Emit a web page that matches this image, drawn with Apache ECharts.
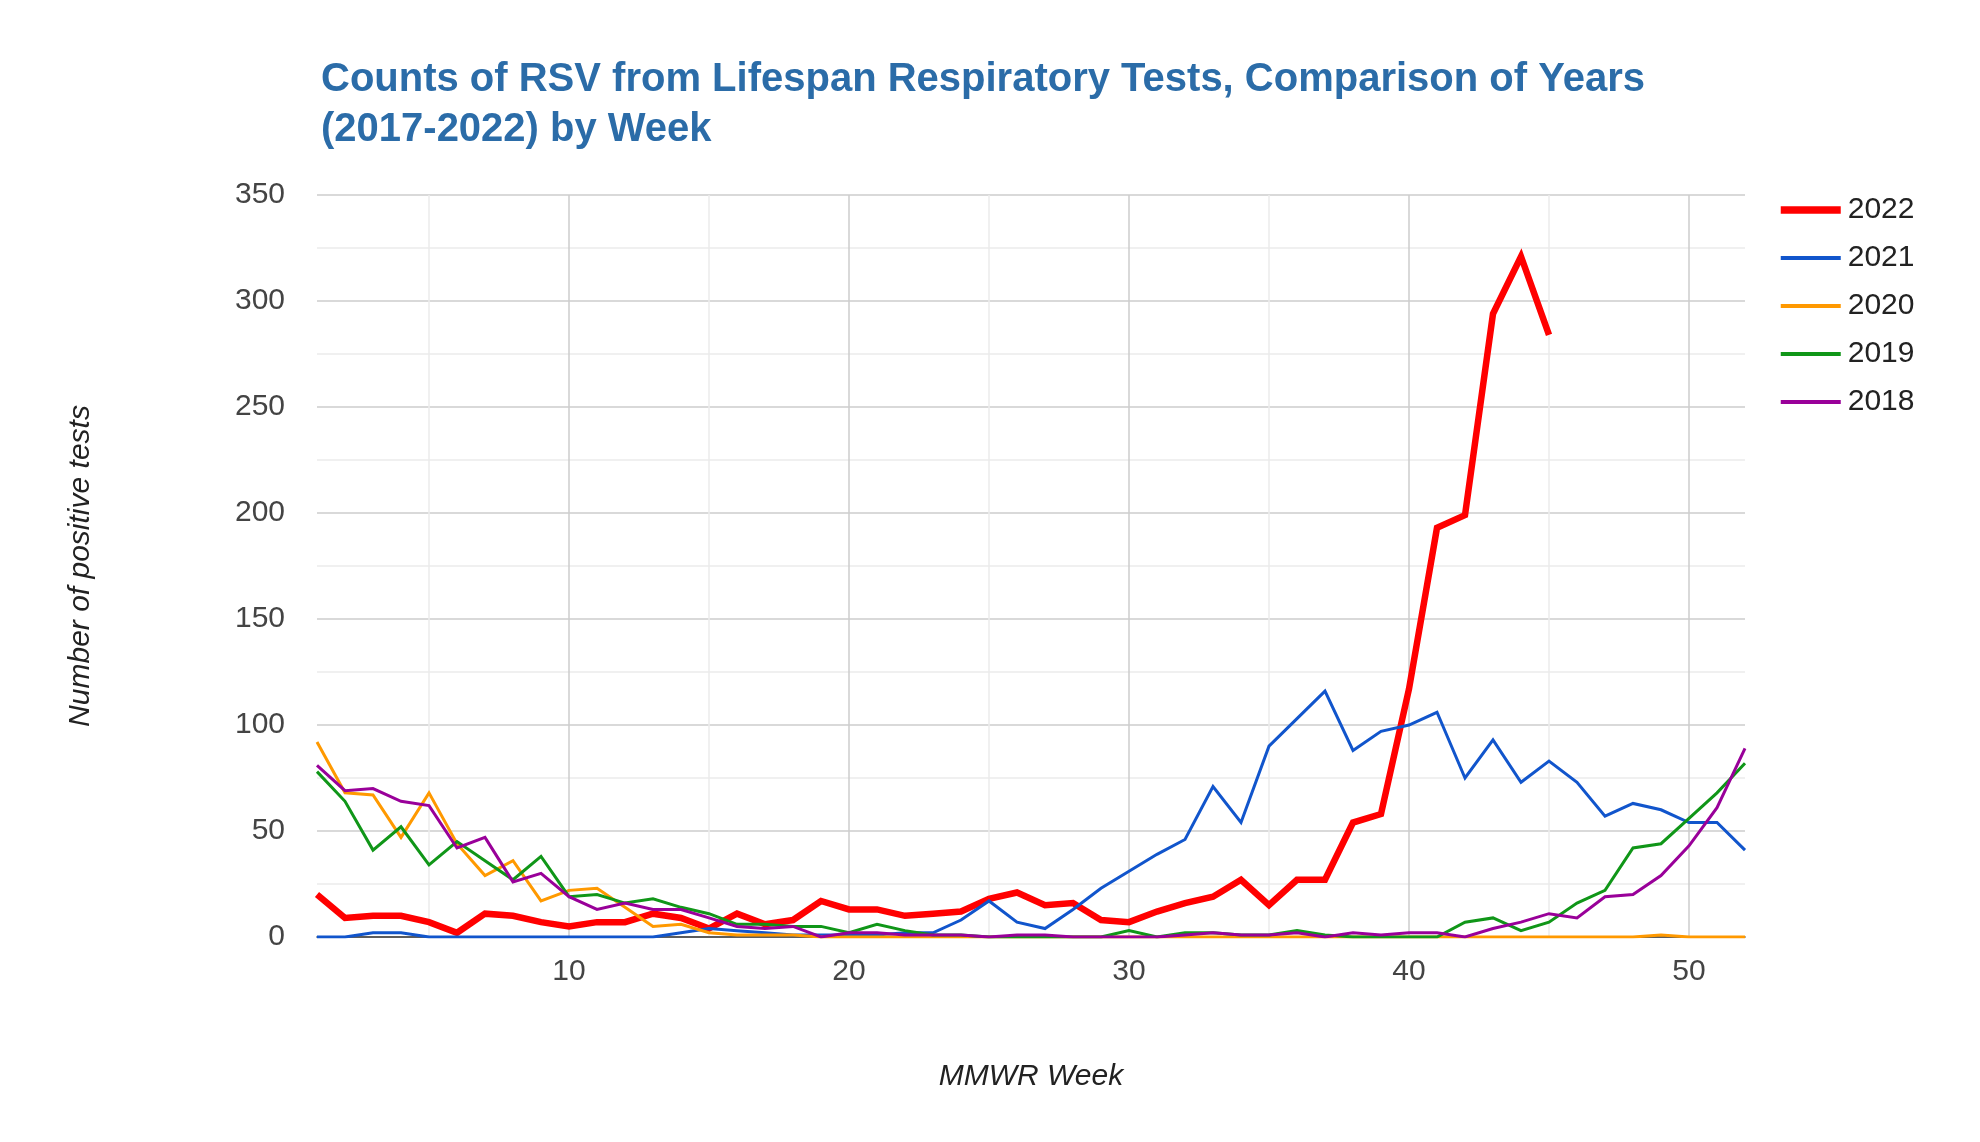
<!DOCTYPE html>
<html>
<head>
<meta charset="utf-8">
<script src="https://cdn.jsdelivr.net/npm/echarts@6/dist/echarts.min.js"></script>
<style>
html,body{margin:0;padding:0;background:#fff;}
#chart{width:1980px;height:1142px;}
</style>
</head>
<body>
<div id="chart"></div>
<script>
const weeks = [1,2,3,4,5,6,7,8,9,10,11,12,13,14,15,16,17,18,19,20,21,22,23,24,25,26,27,28,29,30,31,32,33,34,35,36,37,38,39,40,41,42,43,44,45,46,47,48,49,50,51,52];

const y2022 = [20,9,10,10,7,2,11,10,7,5,7,7,11,9,4,11,6,8,17,13,13,10,11,12,18,21,15,16,8,7,12,16,19,27,15,27,27,54,58,117,193,199,294,321,284];
const y2021 = [0,0,2,2,0,0,0,0,0,0,0,0,0,2,4,3,2,1,1,1,1,2,2,8,17,7,4,13,23,31,39,46,71,54,90,103,116,88,97,100,106,75,93,73,83,73,57,63,60,54,54,41];
const y2020 = [92,68,67,47,68,44,29,36,17,22,23,14,5,6,2,1,1,1,0,0,0,0,0,0,0,0,0,0,0,0,0,0,0,0,0,0,0,0,0,0,0,0,0,0,0,0,0,0,1,0,0,0];
const y2019 = [78,64,41,52,34,45,36,27,38,19,20,16,18,14,11,6,6,5,5,2,6,3,1,1,0,0,0,0,0,3,0,2,2,1,1,3,1,0,0,0,0,7,9,3,7,16,22,42,44,56,68,82];
const y2018 = [81,69,70,64,62,42,47,26,30,19,13,16,13,13,9,5,4,5,0,2,2,1,1,1,0,1,1,0,0,0,0,1,2,1,1,2,0,2,1,2,2,0,4,7,11,9,19,20,29,43,61,89];

const seriesNames = ['2022','2021','2020','2019','2018'];
const seriesData = [y2022, y2021, y2020, y2019, y2018];
const seriesColors = ['#ff0000','#1155cc','#ff9900','#109618','#990099'];
const seriesWidths = [6.5,3,3,3,3];
const legendWidths = [7.5,4,4,4,4];

const titleText = 'Counts of RSV from Lifespan Respiratory Tests, Comparison of Years\n(2017-2022) by Week';
const FONT = '"Liberation Sans", Arial, Helvetica, sans-serif';

const chart = echarts.init(document.getElementById('chart'), null, {renderer:'canvas'});

chart.setOption({
  backgroundColor:'#ffffff',
  animation:false,
  textStyle:{fontFamily:FONT},
  title:{
    text:titleText,
    left:316, top:50,
    textStyle:{fontFamily:FONT, fontSize:40, fontWeight:'bold', color:'#2b6ca8', lineHeight:50}
  },
  legend:{
    orient:'vertical',
    left:1777, top:195,
    padding:0,
    itemWidth:60, itemHeight:14,
    itemGap:18,
    itemStyle:{opacity:0},
    textStyle:{fontFamily:FONT, fontSize:30, color:'#222', lineHeight:30, padding:[0,0,0,2]},
    data: seriesNames.map((n,i)=>({name:n, lineStyle:{width:legendWidths[i], color:seriesColors[i]}}))
  },
  grid:{left:317, right:235, top:195, bottom:205, containLabel:false},
  xAxis:{
    type:'category',
    boundaryGap:false,
    data:weeks.map(String),
    name:'MMWR Week',
    nameLocation:'middle',
    nameGap:125,
    nameTextStyle:{fontFamily:FONT, fontSize:30, fontStyle:'italic', color:'#222'},
    axisLine:{show:true, lineStyle:{color:'#333', width:1.5}},
    axisTick:{show:false},
    axisLabel:{
      interval:(i,v)=>Number(v)%10===0,
      margin:20, fontSize:30, color:'#444', fontFamily:FONT
    },
    splitLine:{
      show:true,
      interval:(i,v)=>Number(v)%5===0,
      lineStyle:{color:['#ebebeb','#cccccc'], width:1.5}
    }
  },
  yAxis:{
    type:'value',
    min:0, max:350, interval:50,
    name:'Number of positive tests',
    nameLocation:'middle',
    nameGap:221,
    nameTextStyle:{fontFamily:FONT, fontSize:30, fontStyle:'italic', color:'#222'},
    axisLine:{show:false},
    axisTick:{show:false},
    axisLabel:{margin:32, fontSize:30, color:'#444', fontFamily:FONT},
    splitLine:{show:true, lineStyle:{color:'#cccccc', width:1.5}},
    minorTick:{show:false, splitNumber:2},
    minorSplitLine:{show:true, lineStyle:{color:'#ebebeb', width:1.5}}
  },
  series: seriesNames.map((n,i)=>({
    name:n,
    type:'line',
    data:seriesData[i],
    symbol:'none',
    showSymbol:false,
    smooth:false,
    color:seriesColors[i],
    lineStyle:{width:seriesWidths[i], color:seriesColors[i], join:'miter'},
    emphasis:{disabled:true}
  }))
});
</script>
</body>
</html>
